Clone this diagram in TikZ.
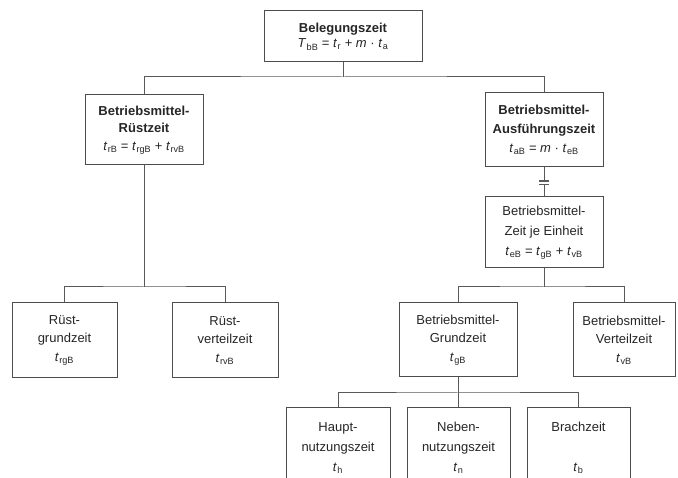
\documentclass[tikz,border=0pt]{standalone}
\usepackage{fontspec}
\setmainfont{Liberation Sans}
\newcommand\tsym[1]{\textit{t}\kern0.03em\textsubscript{#1}}
\newcommand\Tsym[1]{\textit{T}\kern0.03em\textsubscript{#1}}
\begin{document}
\begin{tikzpicture}[x=1pt,y=-1pt,
  box/.style={draw=black!70, line width=1pt, fill=white, align=center,
    inner sep=0pt, text=black!85, font=\fontsize{13}{18.5}\selectfont},
  link/.style={draw=black!65, line width=1pt}]
\useasboundingbox (0,0) rectangle (678,478);
\clip (0,0) rectangle (678,478);
\fill[white] (0,0) rectangle (678,478);

% level 0
\node[box, minimum width=158pt, minimum height=51pt,
  font=\fontsize{13}{15.5}\selectfont] (bz0) at (343,36.5)
  {\textbf{Belegungszeit}\\\Tsym{bB} = \tsym{r} + \textit{m} · \tsym{a}};

% level 1
\node[box, minimum width=118pt, minimum height=70pt,
  font=\fontsize{13}{17.5}\selectfont] (rz) at (144,130)
  {\textbf{Betriebsmittel-}\\\textbf{Rüstzeit}\\\tsym{rB} = \tsym{rgB} + \tsym{rvB}};
\node[box, minimum width=118pt, minimum height=74pt,
  font=\fontsize{13}{19}\selectfont] (az) at (544,130)
  {\textbf{Betriebsmittel-}\\\textbf{Ausführungszeit}\\\tsym{aB} = \textit{m} · \tsym{eB}};

% level 2
\node[box, minimum width=118pt, minimum height=71pt,
  font=\fontsize{13}{20}\selectfont] (ez) at (544,232.5)
  {Betriebsmittel-\\Zeit je Einheit\\\tsym{eB} = \tsym{gB} + \tsym{vB}};

% level 3
\node[box, minimum width=105pt, minimum height=75pt] (rg) at (64.5,340.5)
  {Rüst-\\grundzeit\\\tsym{rgB}};
\node[box, minimum width=106pt, minimum height=75pt] (rv) at (225,340.5)
  {Rüst-\\verteilzeit\\\tsym{rvB}};
\node[box, minimum width=118pt, minimum height=74pt] (gz) at (458,340)
  {Betriebsmittel-\\Grundzeit\\\tsym{gB}};
\node[box, minimum width=102pt, minimum height=74pt] (vz) at (624,340)
  {Betriebsmittel-\\Verteilzeit\\\tsym{vB}};

% level 4 (boxes run past the lower edge)
\node[box, minimum width=104pt, minimum height=80pt,
  font=\fontsize{13}{20}\selectfont] (hn) at (338,448)
  {Haupt-\\nutzungszeit\\\tsym{h}};
\node[box, minimum width=103pt, minimum height=80pt,
  font=\fontsize{13}{20}\selectfont] (nn) at (458.5,448)
  {Neben-\\nutzungszeit\\\tsym{n}};
\node[box, minimum width=103pt, minimum height=80pt,
  font=\fontsize{13}{20}\selectfont] (bc) at (578.5,448)
  {Brachzeit\\\mbox{}\\\tsym{b}};

% branch lines
\coordinate (j0) at (343,77);
\draw[link] (bz0.south) -- (j0);
\draw[link] (rz.north) |- (j0) -| (az.north);

\coordinate (j1) at (144,287);
\draw[link] (rz.south) -- (j1);
\draw[link] (rg.north) |- (j1) -| (rv.north);

% multiplier mark between the execution time and the time per unit
\coordinate (m1) at (544,181);
\coordinate (m2) at (544,184.5);
\draw[link] (az.south) -- (m1);
\draw[link] (m2) -- (ez.north);
\draw[link, line width=1.3pt] ([xshift=-5pt]m1) -- ([xshift=5pt]m1);
\draw[link, line width=1.3pt] ([xshift=-5pt]m2) -- ([xshift=5pt]m2);

\coordinate (j2) at (544,287);
\draw[link] (ez.south) -- (j2);
\draw[link] (gz.north) |- (j2) -| (vz.north);

\coordinate (j3) at (458,393);
\draw[link] (gz.south) -- (j3);
\draw[link] (hn.north) |- (j3) -| (bc.north);
\draw[link] (nn.north) -- (nn.north |- j3);
\end{tikzpicture}
\end{document}
